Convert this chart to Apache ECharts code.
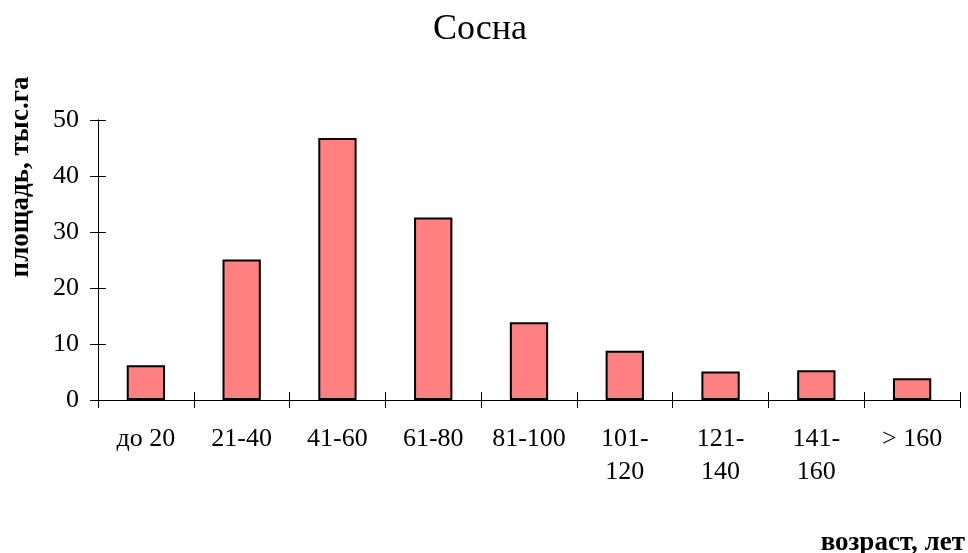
<!DOCTYPE html>
<html>
<head>
<meta charset="utf-8">
<script src="https://cdn.jsdelivr.net/npm/echarts@6/dist/echarts.min.js"></script>
<style>
  html, body { margin: 0; padding: 0; background: #fff; }
  #chart { width: 968px; height: 553px; }
</style>
</head>
<body>
<div id="chart"></div>
<script>
// Age classes of pine stands and their area (thousand ha)
const categories = ['до 20', '21-40', '41-60', '61-80', '81-100', '101-\n120', '121-\n140', '141-\n160', '> 160'];
const areaValues = [6.2, 25.1, 46.8, 32.6, 13.9, 8.8, 5.1, 5.3, 3.9];
const yTicks = { min: 0, max: 50, interval: 10 };

const serif = '"Liberation Serif", "Times New Roman", serif';
const chart = echarts.init(document.getElementById('chart'));

const axisLineStyle = { color: '#000', width: 1 };
const blankLabel = { show: true, color: 'rgba(0,0,0,0)', fontSize: 10 };

chart.setOption({
  animation: false,
  backgroundColor: '#fff',
  grid: { left: 98, right: 8, top: 120, bottom: 153, containLabel: false },
  xAxis: [
    {
      type: 'category',
      data: categories,
      boundaryGap: true,
      axisLine: { show: true, lineStyle: axisLineStyle },
      axisTick: { show: true, inside: false, length: 8, lineStyle: axisLineStyle },
      axisLabel: {
        interval: 0, margin: 23, color: '#000',
        fontFamily: serif, fontSize: 26, lineHeight: 33
      }
    },
    {
      // upper half of the category tick marks, so they cross the baseline
      type: 'category',
      data: categories,
      position: 'bottom',
      boundaryGap: true,
      axisLine: { show: true, lineStyle: axisLineStyle },
      axisTick: { show: true, inside: true, length: 8, lineStyle: axisLineStyle },
      axisLabel: Object.assign({ interval: 0 }, blankLabel)
    }
  ],
  yAxis: [
    {
      type: 'value',
      min: yTicks.min, max: yTicks.max, interval: yTicks.interval,
      axisLine: { show: true, lineStyle: axisLineStyle },
      axisTick: { show: true, inside: false, length: 8, lineStyle: axisLineStyle },
      axisLabel: { margin: 19, color: '#000', fontFamily: serif, fontSize: 26 },
      splitLine: { show: false }
    },
    {
      // right half of the value tick marks
      type: 'value',
      position: 'left',
      min: yTicks.min, max: yTicks.max, interval: yTicks.interval,
      axisLine: { show: true, lineStyle: axisLineStyle },
      axisTick: { show: true, inside: true, length: 8, lineStyle: axisLineStyle },
      axisLabel: blankLabel,
      splitLine: { show: false }
    }
  ],
  series: [
    {
      type: 'bar',
      data: areaValues,
      barWidth: '40%',
      itemStyle: { color: '#FF8080', borderColor: '#000', borderWidth: 2 }
    }
  ],
  graphic: [
    {
      type: 'text',
      x: 480, y: 30,
      style: {
        text: 'Сосна',
        fontFamily: serif, fontSize: 36, fill: '#000',
        align: 'center', verticalAlign: 'middle'
      }
    },
    {
      type: 'text',
      x: 21, y: 177,
      rotation: Math.PI / 2,
      style: {
        text: 'площадь, тыс.га',
        fontFamily: serif, fontSize: 27, fontWeight: 'bold', fill: '#000',
        align: 'center', verticalAlign: 'middle'
      }
    },
    {
      type: 'text',
      x: 965, y: 543,
      style: {
        text: 'возраст, лет',
        fontFamily: serif, fontSize: 27, fontWeight: 'bold', fill: '#000',
        align: 'right', verticalAlign: 'middle'
      }
    }
  ]
});
</script>
</body>
</html>
